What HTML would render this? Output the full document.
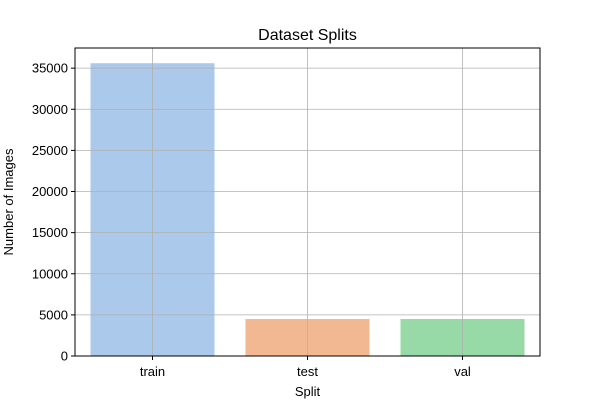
<!DOCTYPE html>
<html><head><meta charset="utf-8"><style>
html,body{margin:0;padding:0;background:#fff;}
svg text{font-family:"Liberation Sans","DejaVu Sans",sans-serif;fill:#000;}
</style></head><body>
<svg id="chart" width="600" height="400" viewBox="0 0 600 400">
<rect width="600" height="400" fill="#fff"/>
<g id="bars"></g>
<g id="grid"></g>
<rect x="75" y="48" width="465" height="308" fill="none" stroke="#000" stroke-width="1"/>
<g id="yticks"></g>
<g id="xticks"></g>
<text x="307.5" y="40" font-size="16" text-anchor="middle">Dataset Splits</text>
<text x="307.5" y="396" font-size="13" text-anchor="middle">Split</text>
<text transform="translate(13,202) rotate(-90)" font-size="13" text-anchor="middle">Number of Images</text>
</svg>
<script>
const categories = ["train", "test", "val"];
const values = [35600, 4500, 4500];
const colors = ["#abc9eb", "#f1b891", "#97d9a7"];
const yTicks = [0, 5000, 10000, 15000, 20000, 25000, 30000, 35000];

const NS = "http://www.w3.org/2000/svg";
const plotLeft = 75, plotRight = 540, plotTop = 48, plotBottom = 356;
const yMax = 37450;
function y(v){ return plotBottom - v / yMax * (plotBottom - plotTop); }
const band = (plotRight - plotLeft) / categories.length;
function xc(i){ return plotLeft + band * (i + 0.5); }
function mk(tag, attrs, parent){ const e = document.createElementNS(NS, tag); for (const k in attrs) e.setAttribute(k, attrs[k]); parent.appendChild(e); return e; }

const gBars = document.getElementById("bars"), gGrid = document.getElementById("grid");
const gY = document.getElementById("yticks"), gX = document.getElementById("xticks");
const bw = band * 0.8;
categories.forEach((c, i) => {
  const r = mk("rect", {x: xc(i) - bw/2, y: y(values[i]), width: bw, height: plotBottom - y(values[i]), fill: colors[i]}, gBars);
  
  
  const gl = mk("line", {x1: xc(i), x2: xc(i), y1: plotTop, y2: plotBottom, stroke: "#b0b0b0", "stroke-width": 0.8}, gGrid);
  
  
  mk("line", {x1: xc(i), x2: xc(i), y1: plotBottom, y2: plotBottom + 4, stroke: "#000"}, gX);
  const t = mk("text", {x: xc(i), y: plotBottom + 20, "font-size": 13, "text-anchor": "middle"}, gX);
  t.textContent = c;
  
  
});
yTicks.forEach(v => {
  const yy = y(v);
  const gl = mk("line", {x1: plotLeft, x2: plotRight, y1: yy, y2: yy, stroke: "#b0b0b0", "stroke-width": 0.8}, gGrid);
  
  
  mk("line", {x1: plotLeft - 4, x2: plotLeft, y1: yy, y2: yy, stroke: "#000"}, gY);
  const t = mk("text", {x: plotLeft - 7, y: yy + 4.5, "font-size": 13, "text-anchor": "end"}, gY);
  t.textContent = v;
  
  
});
</script>
</body></html>
